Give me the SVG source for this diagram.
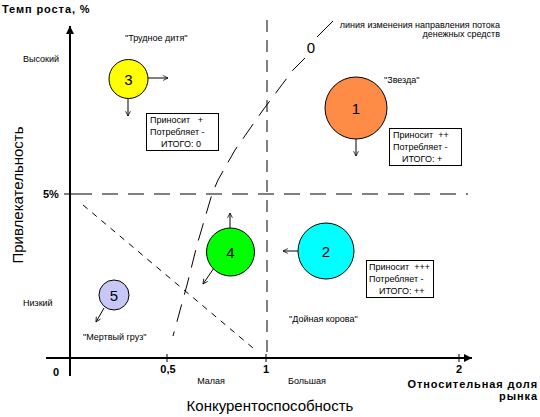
<svg xmlns="http://www.w3.org/2000/svg" width="540" height="417" viewBox="0 0 540 417">
<defs>
<marker id="ah" viewBox="0 0 10 10" refX="10" refY="5" markerWidth="10" markerHeight="8" markerUnits="userSpaceOnUse" orient="auto"><path d="M0,0 L10,5 L0,10 Z" fill="#000"/></marker>
<marker id="oa" viewBox="0 0 10 10" refX="9" refY="5" markerWidth="6" markerHeight="6" markerUnits="userSpaceOnUse" orient="auto"><path d="M1,1 L9,5 L1,9" fill="none" stroke="#000" stroke-width="1.3"/></marker>
</defs>
<style>
text{font-family:"Liberation Sans",Arial,sans-serif;fill:#000}
.s{font-size:9px}
.p{white-space:pre}
.b{font-size:11px;font-weight:bold}
.w{letter-spacing:0.9px}
.big{font-size:15px}
.ax{stroke:#000;stroke-width:2;fill:none}
.grid{stroke:#808080;stroke-width:2;fill:none}
.c{stroke:#000;stroke-width:1}
.ar{stroke:#000;stroke-width:1;fill:none;marker-end:url(#oa)}
.box{fill:#fff;stroke:#000;stroke-width:1}
.num{font-size:15px}
.dl{fill:none;stroke:#000;stroke-width:1;stroke-dasharray:18 10}
</style>
<rect width="540" height="417" fill="#fff"/>
<g id="axes">
<line class="ax" x1="70" y1="376" x2="70" y2="26" marker-end="url(#ah)"/>
<line class="ax" x1="46" y1="358" x2="472" y2="358" marker-end="url(#ah)"/>
<g stroke="#000" stroke-width="1">
<line x1="64" y1="194" x2="76" y2="194"/>
<line x1="167" y1="354" x2="167" y2="362"/>
<line x1="266" y1="354" x2="266" y2="362"/>
<line x1="459" y1="354" x2="459" y2="362"/>
</g>
</g>
<g id="connectors">
<line class="grid" x1="76" y1="194" x2="468" y2="194" stroke-dasharray="16 10"/>
<line class="grid" x1="267" y1="20" x2="267" y2="356" stroke-dasharray="12 8"/>
<line x1="333" y1="21" x2="317" y2="37" stroke="#000" stroke-width="1"/>
<polyline class="dl" points="305,58 293,70 263,110 235,150 218,180 212,194 197,245 187,285 173,336"/>
<line x1="83" y1="205" x2="253" y2="348" stroke="#000" stroke-width="1" stroke-dasharray="6 6"/>
<line class="ar" x1="148" y1="78" x2="168" y2="78"/>
<line class="ar" x1="128" y1="98" x2="128" y2="116"/>
<line class="ar" x1="356" y1="139" x2="356" y2="156"/>
<line class="ar" x1="298" y1="251" x2="283" y2="251"/>
<line class="ar" x1="230" y1="228" x2="230" y2="213"/>
<line class="ar" x1="214" y1="268" x2="203" y2="284"/>
<line class="ar" x1="104" y1="308" x2="96" y2="322"/>
</g>
<g id="node3">
<circle class="c" cx="128.5" cy="79" r="19.5" fill="#ffff00"/>
<text class="num" x="128.5" y="84.5" text-anchor="middle">3</text>
</g>
<g id="node1">
<circle class="c" cx="356" cy="108" r="31" fill="#ff8c46"/>
<text class="num" x="356" y="114" text-anchor="middle">1</text>
</g>
<g id="node2">
<circle class="c" cx="326" cy="251" r="28" fill="#00ffff"/>
<text class="num" x="326" y="257" text-anchor="middle">2</text>
</g>
<g id="node4">
<circle class="c" cx="230.5" cy="252" r="24" fill="#00ff00"/>
<text class="num" x="230.5" y="258" text-anchor="middle">4</text>
</g>
<g id="node5">
<circle class="c" cx="114" cy="295" r="15" fill="#c8c8f8"/>
<text class="num" x="114" y="301" text-anchor="middle">5</text>
</g>
<g id="box3">
<rect class="box" x="146.5" y="113.5" width="72" height="37"/>
<text class="s p" x="150" y="123">Приносит   +</text>
<text class="s" x="150" y="135">Потребляет -</text>
<text class="s" x="161" y="147">ИТОГО: 0</text>
</g>
<g id="box1">
<rect class="box" x="389.5" y="128.5" width="72" height="37"/>
<text class="s p" x="393" y="138">Приносит  ++</text>
<text class="s" x="393" y="150">Потребляет -</text>
<text class="s" x="402" y="162">ИТОГО: +</text>
</g>
<g id="box2">
<rect class="box" x="366.5" y="260.5" width="67" height="37"/>
<text class="s p" x="369" y="270">Приносит  +++</text>
<text class="s" x="369" y="282">Потребляет -</text>
<text class="s" x="379" y="294">ИТОГО: ++</text>
</g>
<g id="labels">
<text class="b w" x="2" y="13">Темп роста, %</text>
<text class="s" x="23" y="62">Высокий</text>
<text class="s" x="23" y="306">Низкий</text>
<text class="s" x="125" y="41">"Трудное дитя"</text>
<text class="s" x="384" y="83">"Звезда"</text>
<text class="s" x="83" y="340">"Мертвый груз"</text>
<text class="s" x="289" y="322">"Дойная корова"</text>
<text class="s" x="500" y="28" text-anchor="end">линия изменения направления потока</text>
<text class="s" x="500" y="37" text-anchor="end">денежных средств</text>
<text x="311" y="53" text-anchor="middle" font-size="15">0</text>
<text class="b" x="43" y="198">5%</text>
<text class="big" transform="translate(23,195) rotate(-90)" text-anchor="middle">Привлекательность</text>
<text class="b" x="56" y="376" text-anchor="middle">0</text>
<text class="b" x="168" y="373" text-anchor="middle">0,5</text>
<text class="b" x="266" y="373" text-anchor="middle">1</text>
<text class="b" x="459" y="373" text-anchor="middle">2</text>
<text class="s" x="211" y="384" text-anchor="middle">Малая</text>
<text class="s" x="307" y="384" text-anchor="middle">Большая</text>
<text class="b w" x="538" y="388" text-anchor="end">Относительная доля</text>
<text class="b w" x="538" y="400" text-anchor="end">рынка</text>
<text class="big" x="270" y="411" text-anchor="middle">Конкурентоспособность</text>
</g>
</svg>
